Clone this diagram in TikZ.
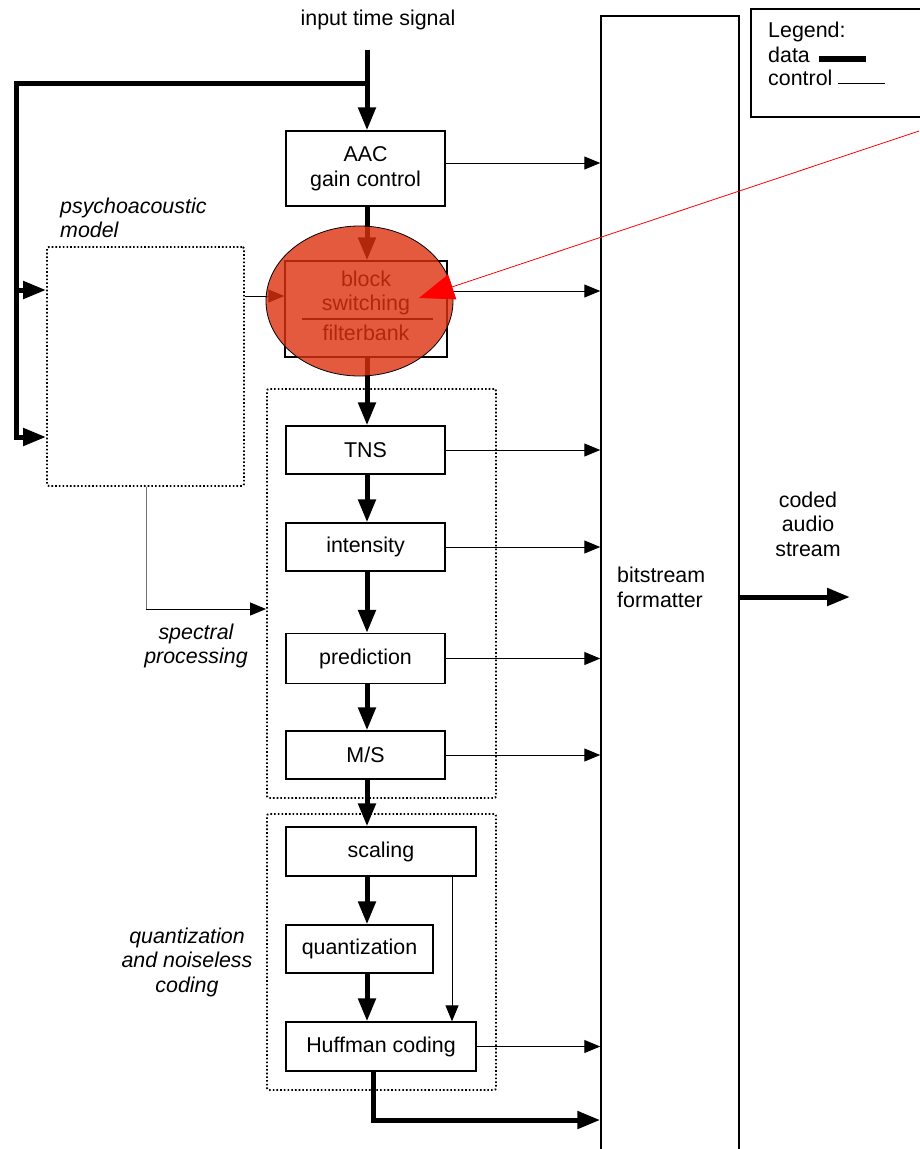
\documentclass[tikz,border=0pt]{standalone}
\usepackage{fontspec}
\setmainfont{Liberation Sans}
\usetikzlibrary{arrows.meta,shapes.geometric}
\definecolor{hlred}{RGB}{220,49,16}
\begin{document}
\begin{tikzpicture}[x=1pt,y=-1pt,
  txt/.style={font=\fontsize{21.4}{24.5}\selectfont, align=center, inner sep=0pt},
  itx/.style={txt, font=\fontsize{21.4}{24.5}\selectfont\itshape},
  box/.style={draw, line width=1.3pt, inner sep=0pt, txt},
  grp/.style={draw, line width=1.9pt, dash pattern={on 1.6pt off 2.1pt}, rounded corners=2pt, inner sep=0pt},
  data/.style={line width=5pt, line join=miter, -{Triangle[length=23pt,width=17pt]}},
  dataline/.style={line width=5pt},
  ctrl/.style={line width=1pt, -{Triangle[length=16pt,width=13pt]}},
  ]
\useasboundingbox[fill=white] (0,0) rectangle (919,1149);

% groups
\node[grp, minimum width=197pt, minimum height=239pt] (pm) at (145.5,366.5) {};
\node[grp, minimum width=229pt, minimum height=409pt] (sp) at (381.5,593.5) {};
\node[grp, minimum width=229pt, minimum height=276pt] (qn) at (381.5,952) {};

% bitstream formatter and legend
\node[draw, line width=1.5pt, minimum width=138pt, minimum height=1164pt, inner sep=0pt] (bf) at (670,598) {};
\node[txt, align=left, anchor=west] (bft) at (617,587.5) {bitstream\\formatter};
\node[draw, line width=1.3pt, minimum width=179pt, minimum height=108pt, inner sep=0pt] (lg) at (840.5,63) {};
\node[txt, anchor=base west] (lg1) at (768,37.5) {Legend:};
\node[txt, anchor=base west] (lg2) at (768,62.5) {data};
\node[txt, anchor=base west] (lg3) at (768,85.5) {control};
\coordinate (ld1) at (819,59); \coordinate (ld2) at (866,59);
\coordinate (lc1) at (838,83); \coordinate (lc2) at (885,83);
\draw[line width=5.5pt] (ld1) -- (ld2);
\draw[line width=1pt] (lc1) -- (lc2);

% processing boxes
\node[box, minimum width=159pt, minimum height=75pt] (aac) at (365.5,168.5) {AAC\\gain control};
\node[box, minimum width=162pt, minimum height=96pt] (bs) at (366,309) {};
\node[txt] (bst) at (366,293) {block\\switching};
\node[txt] (fbt) at (366,333) {filterbank};
\coordinate (dv1) at (302,319); \coordinate (dv2) at (433,319);
\draw[line width=1.3pt] (dv1) -- (dv2);
\node[box, minimum width=159pt, minimum height=48pt] (tns) at (365.5,450) {TNS};
\node[box, minimum width=159pt, minimum height=48pt] (int) at (365.5,547) {intensity};
\node[box, minimum width=159pt, minimum height=50pt] (pre) at (365.5,658.5) {prediction};
\node[box, minimum width=159pt, minimum height=48pt] (ms) at (365.5,755) {M/S};
\node[box, minimum width=190pt, minimum height=49pt] (sc) at (381,851.5) {scaling};
\node[box, minimum width=147pt, minimum height=48pt] (qu) at (359.5,949) {quantization};
\node[box, minimum width=190pt, minimum height=49pt] (hc) at (381,1046.5) {Huffman coding};

% labels
\node[txt] (its) at (378,20) {input time signal};
\node[itx, align=left, anchor=west] (pml) at (60,218) {psychoacoustic\\model};
\node[itx] (spl) at (196,646) {spectral\\processing};
\node[itx] (qnl) at (187,962) {quantization\\and noiseless\\coding};
\node[txt] (cas) at (808,524) {coded\\audio\\stream};

% input and branch
\coordinate (cx) at (367,0);
\coordinate (top) at (367,50);
\coordinate (br) at (367,83);
\coordinate (lt) at (16,83);
\coordinate (L1) at (16,290);
\coordinate (L2) at (16,437);
\draw[data] (top) -- (top |- aac.north);
\draw[data] (br) -- (lt) -- (L2) -- (L2 -| pm.west);
\draw[data] (L1) -- (L1 -| pm.west);

% main data chain
\draw[data] (cx |- aac.south) -- (cx |- bs.north);
\draw[data] (cx |- bs.south) -- (cx |- tns.north);
\draw[data] (cx |- tns.south) -- (cx |- int.north);
\draw[data] (cx |- int.south) -- (cx |- pre.north);
\draw[data] (cx |- pre.south) -- (cx |- ms.north);
\draw[data] (cx |- ms.south) -- (cx |- sc.north);
\draw[data] (cx |- sc.south) -- (cx |- qu.north);
\draw[data] (cx |- qu.south) -- (cx |- hc.north);
\coordinate (hb) at (373,1120);
\draw[data] (hb |- hc.south) -- (hb) -- (hb -| bf.west);
\coordinate (out) at (850,597);
\draw[data] (out -| bf.east) -- (out);

% control
\coordinate (a1) at (0,163);
\draw[ctrl] (a1 -| aac.east) -- (a1 -| bf.west);
\coordinate (a2) at (0,291);
\draw[ctrl] (a2 -| bs.east) -- (a2 -| bf.west);
\coordinate (a3) at (0,296);
\draw[ctrl] (a3 -| pm.east) -- (a3 -| bs.west);
\draw[ctrl] (tns.east) -- (tns.east -| bf.west);
\draw[ctrl] (int.east) -- (int.east -| bf.west);
\draw[ctrl] (pre.east) -- (pre.east -| bf.west);
\draw[ctrl] (ms.east) -- (ms.east -| bf.west);
\draw[ctrl] (hc.east) -- (hc.east -| bf.west);
\coordinate (sx) at (452,900);
\draw[ctrl] (sx |- sc.south) -- (sx |- hc.north);
\coordinate (c146) at (146,609);
\draw[line width=1pt, draw=black!55] (c146 |- pm.south) -- (c146);
\draw[ctrl] (c146) -- (c146 -| sp.west);

% red highlight
\node[ellipse, draw=black, line width=0.8pt, fill=hlred, fill opacity=0.8, minimum width=187pt, minimum height=150pt, inner sep=0pt] (hl) at (359.5,301) {};
\coordinate (r1) at (919,131);
\coordinate (r2) at (419,298);
\draw[red, line width=0.8pt, -{Triangle[length=35pt,width=26pt]}] (r1) -- (r2);
\end{tikzpicture}
\end{document}
